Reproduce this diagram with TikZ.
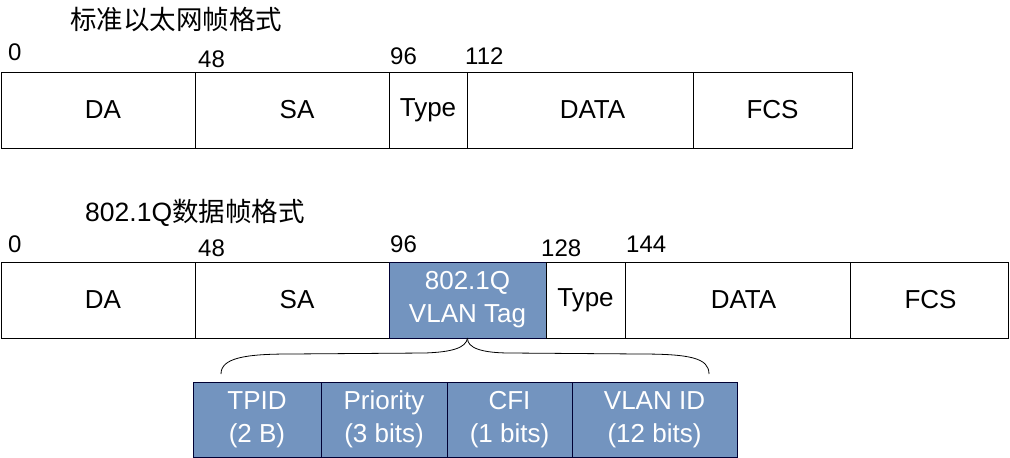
\documentclass[tikz,border=0pt]{standalone}
\usepackage{fontspec}
\setmainfont{Liberation Sans}
\newfontfamily\cjk{Noto Sans CJK SC}
\begin{document}
\begin{tikzpicture}[x=1pt,y=-1pt,
  cell/.style={draw=black, line width=1pt, fill=white, anchor=north west,
    inner sep=0pt, outer sep=0pt, align=center,
    font=\fontsize{26}{33}\selectfont},
  % moves a cell's text to the right by #1 (leading space of twice the amount)
  nudge/.style={execute at begin node={\hspace*{#1}}},
  tagcell/.style={cell, draw=black!80!blue, fill=tagblue, text=white},
  offs/.style={anchor=base west, inner sep=0pt, font=\fontsize{24}{28}\selectfont},
  heading/.style={anchor=base west, inner sep=0pt, font=\fontsize{26.5}{30}\selectfont},
  bracepath/.style={draw=black, line width=0.8pt}
]
\definecolor{tagblue}{RGB}{115,148,191}
\useasboundingbox (0,0) rectangle (1010,458);

% ---- standard Ethernet frame ----
\node[heading] (t1) at (70,29) {\cjk 标准以太网帧格式};
\node[cell, nudge=10pt, minimum width=194, minimum height=76] (da1) at (1,72) {DA};
\node[cell, nudge=10pt, minimum width=194, minimum height=76] (sa1) at (195,72) {SA};
\node[cell, minimum width=78,  minimum height=76] (ty1) at (389,72) {Type};
\node[cell, nudge=25pt, minimum width=226, minimum height=76] (dt1) at (467,72) {DATA};
\node[cell, minimum width=159, minimum height=76] (fc1) at (693,72) {FCS};
\node[offs] (o10) at (8,60) {0};
\node[offs] (o11) at (198,67) {48};
\node[offs] (o12) at (390,64) {96};
\node[offs] (o13) at (465,64) {112};

% ---- 802.1Q frame ----
\node[heading] (t2) at (85,221) {802.1Q{\cjk 数据帧格式}};
\node[cell, nudge=10pt, minimum width=194, minimum height=76] (da2) at (1,262) {DA};
\node[cell, nudge=10pt, minimum width=194, minimum height=76] (sa2) at (195,262) {SA};
\node[tagcell, minimum width=157, minimum height=76] (tag) at (389,262) {802.1Q\\VLAN Tag};
\node[cell, minimum width=79,  minimum height=76] (ty2) at (546,262) {Type};
\node[cell, nudge=12pt, minimum width=225, minimum height=76] (dt2) at (625,262) {DATA};
\node[cell, nudge=3pt, minimum width=158, minimum height=76] (fc2) at (850,262) {FCS};
\node[offs] (o20) at (8,252) {0};
\node[offs] (o21) at (198,256) {48};
\node[offs] (o22) at (390,252) {96};
\node[offs] (o23) at (541,256) {128};
\node[offs] (o24) at (626,252) {144};

% ---- tag fields ----
\node[tagcell, minimum width=128, minimum height=75] (tpid) at (193,382) {TPID\\(2 B)};
\node[tagcell, minimum width=126, minimum height=75] (prio) at (321,382) {Priority\\(3 bits)};
\node[tagcell, minimum width=125, minimum height=75] (cfi)  at (447,382) {CFI\\(1 bits)};
\node[tagcell, minimum width=165, minimum height=75] (vid)  at (572,382) {VLAN ID\\(12 bits)};

% ---- brace from the tag down to its fields ----
\coordinate (tip) at (tag.south);
\coordinate (bl) at (221,374);
\coordinate (br) at (709,374);
\draw[bracepath] (bl) .. controls (221,358) and (245,354) .. (290,354)
  -- (425,353) .. controls (452,352) and (466,348) .. (tip);
\draw[bracepath] (tip) .. controls (467,348) and (482,353) .. (510,353)
  -- (640,354) .. controls (690,354) and (709,358) .. (br);
\end{tikzpicture}
\end{document}
